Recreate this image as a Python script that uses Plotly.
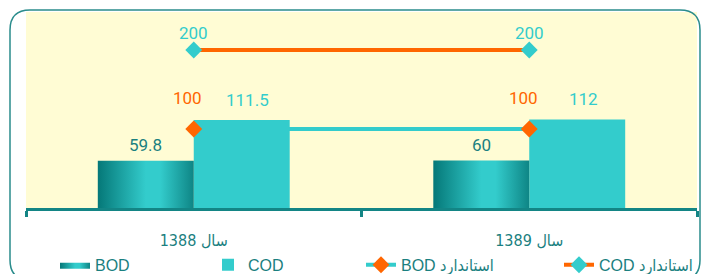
import plotly.graph_objects as go

# ---- data ----
years = ["سال 1388", "سال 1389"]
bod = [59.8, 60]
cod = [111.5, 112]
bod_std = [100, 100]
cod_std = [200, 200]
series_names = ["BOD", "COD", "\u202bاستاندارد BOD\u202c", "\u202bاستاندارد COD\u202c"]

# ---- styles ----
CYAN = "#33cccc"
ORANGE = "#ff6600"
TEAL = "#138585"
TEXT_TEAL = "#1a8080"
W = 0.286  # bar width in category units
xs = list(range(len(years)))

fig = go.Figure()

# BOD bars with horizontal gradient (one filled polygon per bar)
grad = [[0, "#057878"], [0.5, "#33cccc"], [0.65, "#33cccc"], [1, "#0e8585"]]
for i, v in enumerate(bod):
    fig.add_trace(go.Scatter(
        x=[xs[i] - W, xs[i], xs[i], xs[i] - W, xs[i] - W],
        y=[0, 0, v, v, 0],
        mode="lines", fill="toself",
        line=dict(width=0, color=CYAN),
        fillgradient=dict(type="horizontal", colorscale=grad),
        name=series_names[0], legendgroup="bod", showlegend=(i == 0),
        legendwidth=108, hoverinfo="skip",
    ))

fig.add_trace(go.Bar(
    x=xs, y=cod, width=W, offset=0, marker=dict(color=CYAN, line=dict(width=0)),
    name=series_names[1], legendwidth=108,
))

fig.add_trace(go.Scatter(
    x=xs, y=bod_std, mode="lines+markers",
    line=dict(color=CYAN, width=4),
    marker=dict(symbol="diamond", size=13, color=ORANGE),
    name=series_names[2], legendwidth=153,
))
fig.add_trace(go.Scatter(
    x=xs, y=cod_std, mode="lines+markers",
    line=dict(color=ORANGE, width=4),
    marker=dict(symbol="diamond", size=13, color=CYAN),
    name=series_names[3],
))

ann_font = dict(family="Roboto, Arial, sans-serif", size=17)
annotations = []
for i in xs:
    annotations.append(dict(x=xs[i] - W / 2, y=bod[i], text=f"{bod[i]:g}", showarrow=False,
                            yanchor="middle", yshift=16, font=dict(ann_font, color=TEXT_TEAL)))
    annotations.append(dict(x=xs[i] + W / 2, y=cod[i], text=f"{cod[i]:g}", showarrow=False,
                            yanchor="middle", yshift=20, xshift=6, font=dict(ann_font, color=CYAN)))
    annotations.append(dict(x=xs[i], y=bod_std[i], text=f"{bod_std[i]:g}", showarrow=False,
                            yanchor="middle", yshift=31, xshift=-6, font=dict(ann_font, color=ORANGE)))
    annotations.append(dict(x=xs[i], y=cod_std[i], text=f"{cod_std[i]:g}", showarrow=False,
                            yanchor="middle", yshift=17, font=dict(ann_font, color=CYAN)))

# rounded outer frame (paper coords; plot area 671 x 196 px)
pw, ph = 671.0, 196.0
x0, x1 = (10 - 26) / pw, (700 - 26) / pw
y1, y0 = (208 - 10) / ph, (208 - 280) / ph
rx, ry = 20 / pw, 20 / ph
frame = (f"M {x0+rx},{y1} L {x1-rx},{y1} Q {x1},{y1} {x1},{y1-ry} "
         f"L {x1},{y0+ry} Q {x1},{y0} {x1-rx},{y0} L {x0+rx},{y0} "
         f"Q {x0},{y0} {x0},{y0+ry} L {x0},{y1-ry} Q {x0},{y1} {x0+rx},{y1} Z")

fig.update_layout(
    width=701, height=274,
    margin=dict(l=26, r=4, t=12, b=66, autoexpand=False),
    paper_bgcolor="white",
    plot_bgcolor="#fffcd4",
    showlegend=True,
    barmode="overlay",
    annotations=annotations,
    shapes=[dict(type="path", path=frame, xref="paper", yref="paper",
                 line=dict(color="#2a8c8c", width=1.5), layer="below")],
    legend=dict(orientation="h", x=(55 - 26) / pw, xanchor="left", y=-0.29, yanchor="middle",
                font=dict(family="Liberation Sans, DejaVu Sans Condensed, DejaVu Sans, sans-serif",
                          size=16, color=TEXT_TEAL),
                bgcolor="rgba(0,0,0,0)", traceorder="normal"),
    xaxis=dict(
        range=[-0.5, 1.5], tickvals=xs, ticktext=years,
        showgrid=False, zeroline=False,
        showline=True, linecolor=TEAL, linewidth=3,
        ticks="outside", ticklen=16, tickcolor="rgba(0,0,0,0)",
        tickfont=dict(family="Liberation Sans Narrow, DejaVu Sans Condensed, Liberation Sans, DejaVu Sans",
                      size=16, color=TEXT_TEAL),
        minor=dict(tick0=-0.5, dtick=1, ticks="outside", ticklen=6, tickwidth=3, tickcolor=TEAL),
        fixedrange=True,
    ),
    yaxis=dict(range=[0, 248], visible=False, showgrid=False, zeroline=False, fixedrange=True),
)

fig.write_html("out.html", config=dict(displayModeBar=False),
               post_script="document.body.style.margin='0';document.body.style.overflow='hidden';")
